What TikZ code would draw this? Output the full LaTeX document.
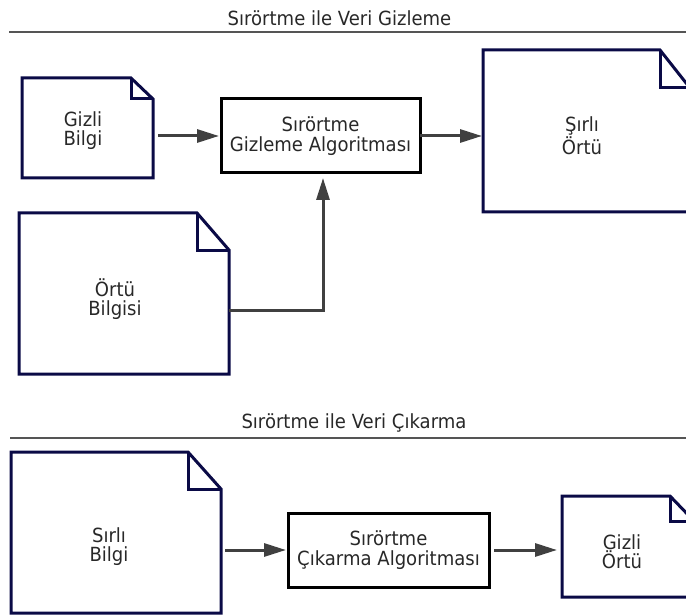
\documentclass[tikz,border=0pt]{standalone}
\usepackage{fontspec}
\setmainfont{DejaVu Sans}[FakeStretch=0.925]
\usetikzlibrary{arrows.meta,calc}
\definecolor{docnavy}{RGB}{10,10,70}
\definecolor{arrgray}{RGB}{64,64,64}
\definecolor{rulegray}{RGB}{85,85,85}
\definecolor{txtgray}{RGB}{40,40,40}
\tikzset{
  docbox/.style={inner sep=0pt, outer sep=0pt},
  doctext/.style={align=center, font=\fontsize{19.5}{19}\selectfont, text=txtgray, inner sep=0pt},
  algbox/.style={draw=black, line width=3pt, align=center, inner sep=0pt, outer sep=0pt,
                 font=\fontsize{19.5}{20}\selectfont, text=txtgray},
  docline/.style={draw=docnavy, line width=3pt, line join=miter},
  arr/.style={draw=arrgray, line width=3pt, -{Triangle[length=22pt,width=13pt]}},
  titletext/.style={font=\fontsize{19.5}{20}\selectfont, text=txtgray, inner sep=0pt},
  rulel/.style={draw=rulegray, line width=2pt}
}
\newcommand{\docdraw}[3]{%
  \draw[docline] (#1.north west) -- ([xshift=-#2]#1.north east) -- ([yshift=-#3]#1.north east)
     -- (#1.south east) -- (#1.south west) -- cycle;
  \draw[docline] ([xshift=-#2]#1.north east) |- ([yshift=-#3]#1.north east);
}
\begin{document}
\begin{tikzpicture}[x=1pt,y=-1pt]
\useasboundingbox (0,0) rectangle (686,615);
% Titles and rules
\node[titletext] (t1) at (339.5,18) {Sırörtme ile Veri Gizleme};
\coordinate (r1a) at (9,32); \coordinate (r1b) at (686,32);
\draw[rulel] (r1a) -- (r1b);
\node[titletext] (t2) at (354,423) {Sırörtme ile Veri Çıkarma};
\coordinate (r2a) at (10,438); \coordinate (r2b) at (686,438);
\draw[rulel] (r2a) -- (r2b);

% Top part
\node[docbox, minimum width=131pt, minimum height=100pt] (gb) at (87.5,128) {};
\docdraw{gb}{22pt}{21pt}
\node[doctext] (gbt) at (83,131) {Gizli\\Bilgi};

\node[algbox, minimum width=199pt, minimum height=74pt] (alg1) at (320.5,136) {Sırörtme\\Gizleme Algoritması};

\node[docbox, minimum width=207pt, minimum height=162pt] (so) at (586.5,131) {};
\docdraw{so}{30pt}{38pt}
\node[doctext] (sot) at (582,136) {Şırlı\\Örtü};

\node[docbox, minimum width=210pt, minimum height=161pt] (ob) at (124,293.5) {};
\docdraw{ob}{32pt}{37pt}
\node[doctext] (obt) at (115,299) {Örtü\\Bilgisi};

\draw[arr] ([xshift=5pt]gb.east |- alg1.west) -- ([xshift=-2pt]alg1.west);
\draw[arr] (alg1.east) -- ([xshift=-1pt]so.west |- alg1.east);
\draw[arr] ([yshift=-16.5pt]ob.east) -| ([xshift=2.5pt,yshift=-5pt]alg1.south);

% Bottom part
\node[docbox, minimum width=210pt, minimum height=161pt] (sb) at (116,532.5) {};
\docdraw{sb}{33pt}{37pt}
\node[doctext] (sbt) at (109,547) {Sırlı\\Bilgi};

\node[algbox, minimum width=201pt, minimum height=74pt] (alg2) at (388.5,550) {Sırörtme\\Çıkarma Algoritması};

\node[docbox, minimum width=132pt, minimum height=101pt] (go) at (628,546.5) {};
\docdraw{go}{24pt}{25pt}
\node[doctext] (got) at (622,552) {Gizli\\Örtü};

\draw[arr] ([xshift=4pt]sb.east |- alg2.west) -- ([xshift=-2pt]alg2.west);
\draw[arr] ([xshift=5pt]alg2.east) -- ([xshift=-5pt]go.west |- alg2.east);
\end{tikzpicture}
\end{document}
